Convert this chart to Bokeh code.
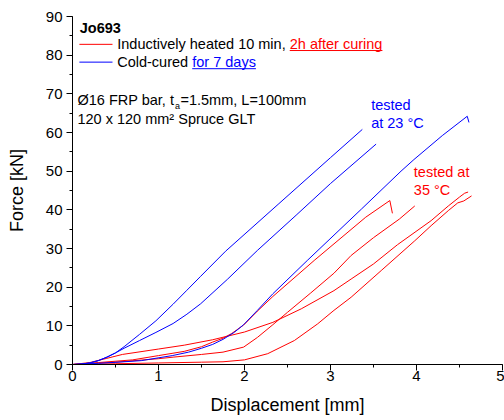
from bokeh.plotting import figure
from bokeh.models import Label, SingleIntervalTicker
from bokeh.embed import file_html
from bokeh.resources import INLINE

# ---------------- data ----------------
# Cold-cured, tested at 23 °C (blue)
b1_x = [0, 0.1, 0.2, 0.3, 0.4, 0.5, 0.6, 0.78, 0.97, 1.17, 1.33, 1.49, 1.78, 2.4, 3.0, 3.37]
b1_y = [0, 0.1, 0.4, 1.0, 1.9, 3.0, 4.6, 7.8, 11.3, 15.6, 19.2, 22.8, 29.3, 41.6, 53.5, 60.8]
b2_x = [0, 0.1, 0.2, 0.3, 0.4, 0.5, 0.6, 0.78, 0.97, 1.17, 1.33, 1.49, 1.8, 2.15, 2.6, 3.0, 3.53]
b2_y = [0, 0.1, 0.4, 1.0, 1.9, 3.0, 4.2, 6.2, 8.3, 10.6, 13.0, 15.7, 22.0, 29.5, 38.6, 46.8, 57.0]
b3_x = [0, 0.3, 0.6, 0.8, 1.16, 1.35, 1.5, 1.63, 1.75, 1.88, 1.99, 2.15, 2.33,
        2.73, 3.36, 3.82, 3.97, 4.3, 4.59, 4.61]
b3_y = [0, 0.3, 0.7, 1.0, 2.3, 3.2, 4.2, 5.2, 6.5, 8.3, 10.3, 14.0, 18.3,
        26.9, 40.2, 50.0, 53.0, 59.2, 64.2, 62.6]

# Inductively heated, tested at 35 °C (red)
r1_x = [0, 0.3, 0.7, 1.0, 1.3, 1.5, 1.63, 1.75, 1.85, 1.99, 2.15, 2.33, 2.81, 3.41, 3.69, 3.72]
r1_y = [0, 0.5, 1.2, 2.3, 3.4, 4.6, 5.8, 6.8, 8.0, 10.2, 13.8, 17.6, 26.9, 38.1, 42.4, 39.1]
r2_x = [0, 0.5, 1.0, 1.17, 1.5, 1.75, 1.99, 2.15, 2.33, 2.5, 2.77, 3.04, 3.24, 3.5, 3.8, 3.98]
r2_y = [0, 0.6, 1.5, 1.9, 2.6, 3.2, 4.5, 7.0, 10.3, 13.5, 18.5, 23.6, 28.2, 32.8, 37.6, 41.0]
r3_x = [0, 0.2, 0.4, 0.58, 1.0, 1.3, 1.63, 2.0, 2.33, 2.66, 3.04, 3.24, 3.5, 3.78,
        4.17, 4.37, 4.5, 4.56, 4.6]
r3_y = [0, 0.5, 1.6, 2.6, 4.0, 5.0, 6.4, 8.4, 10.9, 14.4, 19.1, 22.1, 26.0, 31.0,
        37.2, 41.0, 43.3, 44.3, 44.6]
r4_x = [0, 0.5, 1.0, 1.5, 1.75, 2.0, 2.27, 2.58, 2.85, 3.04, 3.24, 3.59, 3.98,
        4.17, 4.37, 4.48, 4.55, 4.64]
r4_y = [0, 0.2, 0.4, 0.6, 0.7, 1.2, 2.8, 6.2, 10.5, 14.0, 17.4, 24.3, 32.0,
        35.9, 39.8, 41.8, 42.3, 43.6]

blue_series = [(b1_x, b1_y), (b2_x, b2_y), (b3_x, b3_y)]
red_series = [(r1_x, r1_y), (r2_x, r2_y), (r3_x, r3_y), (r4_x, r4_y)]

RED = "#ff0000"
BLUE = "#0000ff"
FONT = "Liberation Sans"

# ---------------- figure ----------------
p = figure(width=504, height=420, x_range=(0, 5), y_range=(0, 90),
           output_backend="svg", toolbar_location=None,
           min_border_left=72, min_border_right=2, min_border_top=16,
           min_border_bottom=56)
p.grid.visible = False
p.outline_line_color = None
p.background_fill_color = "white"
p.border_fill_color = "white"

p.xaxis.ticker = SingleIntervalTicker(interval=1, num_minor_ticks=2)
p.yaxis.ticker = SingleIntervalTicker(interval=10, num_minor_ticks=2)
for ax in (p.xaxis, p.yaxis):
    ax.axis_line_color = "black"
    ax.major_tick_line_color = "black"
    ax.minor_tick_line_color = "black"
    ax.major_tick_in = 0
    ax.major_tick_out = 6
    ax.minor_tick_in = 0
    ax.minor_tick_out = 3
    ax.major_label_text_font = FONT
    ax.major_label_text_font_size = "15px"
    ax.major_label_text_color = "black"
    ax.axis_label_text_font = FONT
    ax.axis_label_text_font_size = "18px"
    ax.axis_label_text_font_style = "normal"
    ax.axis_label_text_color = "black"
p.xaxis.axis_label = "Displacement [mm]"
p.yaxis.axis_label = "Force [kN]"
p.xaxis.major_label_standoff = 0
p.xaxis.axis_label_standoff = 11
p.yaxis.major_label_standoff = 4
p.yaxis.axis_label_standoff = 16

for xs, ys in red_series:
    p.line(xs, ys, line_color=RED, line_width=1)
for xs, ys in blue_series:
    p.line(xs, ys, line_color=BLUE, line_width=1)

# ---------------- annotations ----------------
def lab(x, y, text, color="black", size="14.5px", style="normal", xo=0, yo=0):
    p.add_layout(Label(x=x, y=y, text=text, text_color=color, text_font=FONT,
                       text_font_size=size, text_font_style=style,
                       text_baseline="middle", text_align="left",
                       x_offset=xo, y_offset=yo))

PX = 5 / 430.0  # data units per pixel in x

lab(0.085, 87.1, "Jo693", style="bold")

# legend
LEG_X0, LEG_X1, LEG_TX = 0.08, 0.465, 0.52
p.line([LEG_X0, LEG_X1], [82.8, 82.8], line_color=RED, line_width=1)
lab(LEG_TX, 82.8, "Inductively heated 10 min, ")
lab(LEG_TX, 82.8, "2h after curing", color=RED, xo=172.5)
p.segment(x0=[LEG_TX + 172.5 * PX], y0=[81.2], x1=[LEG_TX + 265.2 * PX], y1=[81.2],
          line_color=RED, line_width=1)

p.line([LEG_X0, LEG_X1], [78.2, 78.2], line_color=BLUE, line_width=1)
lab(LEG_TX, 78.2, "Cold-cured ")
lab(LEG_TX, 78.2, "for 7 days", color=BLUE, xo=75)
p.segment(x0=[LEG_TX + 75 * PX], y0=[76.5], x1=[LEG_TX + 138.7 * PX], y1=[76.5],
          line_color=BLUE, line_width=1)

# specimen text
lab(0.058, 68.5, "Ø16 FRP bar, t")
lab(0.058, 68.5, "a", size="9px", xo=97.5, yo=-6)
lab(0.058, 68.5, "=1.5mm, L=100mm", xo=103)
lab(0.058, 63.6, "120 x 120 mm² Spruce GLT")

# test temperature notes
lab(3.473, 67.2, "tested", color=BLUE)
lab(3.473, 62.5, "at 23 °C", color=BLUE)
lab(3.969, 49.7, "tested at", color=RED)
lab(3.969, 45.2, "35 °C", color=RED)

open("out.html", "w").write(file_html(p, INLINE))
